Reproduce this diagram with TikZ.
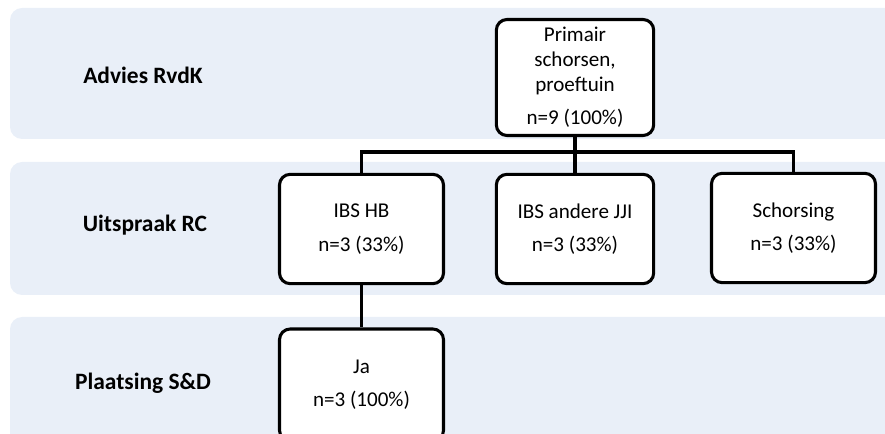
\documentclass[tikz,border=0pt]{standalone}
\usepackage{fontspec}
\setmainfont{Carlito}
\definecolor{bandblue}{RGB}{233,239,248}
\begin{document}
\begin{tikzpicture}[x=0.75pt,y=-0.75pt,
  band/.style={fill=bandblue,rounded corners=9pt},
  level/.style={font=\fontsize{17.6}{20}\selectfont\bfseries},
  box/.style={draw=black,line width=2.3pt,fill=white,rounded corners=8pt,
    align=center,inner sep=0pt,minimum width=123pt,minimum height=82pt,
    font=\fontsize{15.8}{18.5}\selectfont},
  link/.style={line width=2.3pt,draw=black}
]
  \useasboundingbox (0,0) rectangle (885,434);
  \clip (0,0) rectangle (885,434);
  % bands
  \fill[band] (10,8) rectangle (910,139);
  \fill[band] (10,162) rectangle (910,295);
  \fill[band] (10,317) rectangle (910,470);
  \node[level] (rvdk) at (143,75) {Advies RvdK};
  \node[level] (rc) at (145,225) {Uitspraak RC};
  \node[level] (sd) at (143,383) {Plaatsing S\&D};
  % boxes
  \node[box,minimum width=118pt,minimum height=87pt] (root) at (575,77.5)
    {Primair\\schorsen,\\proeftuin\\[6.5pt]n=9 (100\%)};
  \node[box] (hb) at (361.5,229) {IBS HB\\[6.5pt]n=3 (33\%)};
  \node[box,minimum width=118pt] (jji) at (575,229) {IBS andere JJI\\[6.5pt]n=3 (33\%)};
  \node[box] (sch) at (793.5,228) {Schorsing\\[6.5pt]n=3 (33\%)};
  \node[box,minimum height=84pt] (ja) at (361.5,385) {Ja\\[6.5pt]n=3 (100\%)};
  % connectors
  \coordinate (split) at (575,152);
  \draw[link] (root) -- (split) -| (hb);
  \draw[link] (split) -| (sch);
  \draw[link] (split) -- (jji);
  \draw[link] (hb) -- (ja);
\end{tikzpicture}
\end{document}
